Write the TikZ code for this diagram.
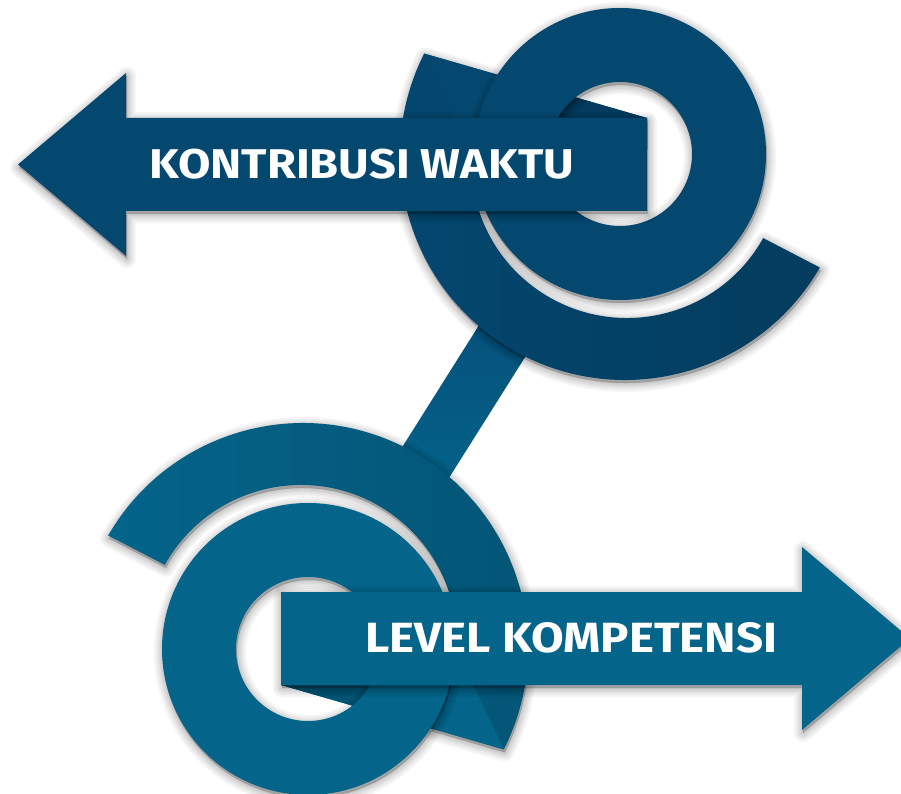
\documentclass[tikz,border=0pt]{standalone}
\usepackage{fontspec}
\newfontfamily\lblfont{Fira Sans}
\usetikzlibrary{calc}
\definecolor{topmain}{HTML}{044870}
\definecolor{topdark}{HTML}{033C5E}
\definecolor{botmain}{HTML}{04648A}
\definecolor{botdark}{HTML}{035474}
\definecolor{stemtop}{HTML}{054E78}
\definecolor{stembot}{HTML}{04658B}
\tikzset{
  lbl/.style={text=white, inner sep=0pt, anchor=south west, font=\lblfont\bfseries},
  shadowlayer/.style={black, fill opacity=0.04, draw opacity=0.04, line join=round, even odd rule}
}
% soft shadow of a path: #1 x shift, #2 y shift, #3 path
\newcommand\softshadow[3]{%
  \foreach \w in {18,14,10,7,4,1}{%
    \path[shadowlayer, fill, draw, line width=\w pt, xshift=#1, yshift=#2] #3;
  }%
}
% #1 main colour, #2 dark colour, #3 #4 shadow shift
\newcommand\ringgroup[4]{%
  % outer band
  \softshadow{#3}{#4}{($(625,-155)+(153.2:225)$) arc[start angle=153.2, end angle=330, radius=225]
    -- ($(627,-162)+(-29.2:156)$) arc[start angle=-29.2, end angle=-214, radius=156] -- cycle}
  \shade[left color=#1, middle color=#1, right color=#2]
    ($(625,-155)+(153.2:225)$) arc[start angle=153.2, end angle=330, radius=225]
    -- ($(627,-162)+(-29.2:156)$) arc[start angle=-29.2, end angle=-214, radius=156] -- cycle;
  % wedge behind the ring, seen through the hole
  \fill[#1] (424.1,-53.6) -- (647,-118) -- (647,-150) -- (470,-150) -- cycle;
  \begin{scope}
    \clip (620,-154) circle[radius=72];
    \fill[#2] (424.1,-53.6) -- (647,-118) -- (647,-150) -- (470,-150) -- cycle;
  \end{scope}
  % ring
  \softshadow{#3}{#4}{(620,-154) circle[radius=146] (620,-154) circle[radius=72]}
  \fill[#1, even odd rule] (620,-154) circle[radius=146] (620,-154) circle[radius=72];
  % arrow
  \softshadow{#3}{#4}{(18,-164.5) -- (126,-73) -- (126,-118) -- (647,-118) -- (647,-211)
    -- (126,-211) -- (126,-256) -- cycle}
  \fill[#1] (18,-164.5) -- (126,-73) -- (126,-118) -- (647,-118) -- (647,-211)
    -- (126,-211) -- (126,-256) -- cycle;
}
\begin{document}
\begin{tikzpicture}[x=1pt,y=1pt]
  \fill[white] (0,0) rectangle (901,-794);
  \useasboundingbox (0,0) rectangle (901,-794);
  % stem
  \shade[top color=stemtop, bottom color=stembot]
    (553.0,-312.8) -- (505.6,-283.0) -- (375.0,-490.3) -- (422.4,-520.1) -- cycle;
  % top group
  \ringgroup{topmain}{topdark}{1pt}{-3pt}
  % bottom group (point symmetric)
  \begin{scope}[rotate around={180:(464,-401.5)}]
    \ringgroup{botmain}{botdark}{-1pt}{3pt}
  \end{scope}
  \node[lbl] (t1) at (149,-179.5) {\resizebox{425pt}{29.5pt}{KONTRIBUSI WAKTU}};
  \node[lbl] (t2) at (365,-653.5) {\resizebox{412pt}{30pt}{LEVEL KOMPETENSI}};
\end{tikzpicture}
\end{document}
